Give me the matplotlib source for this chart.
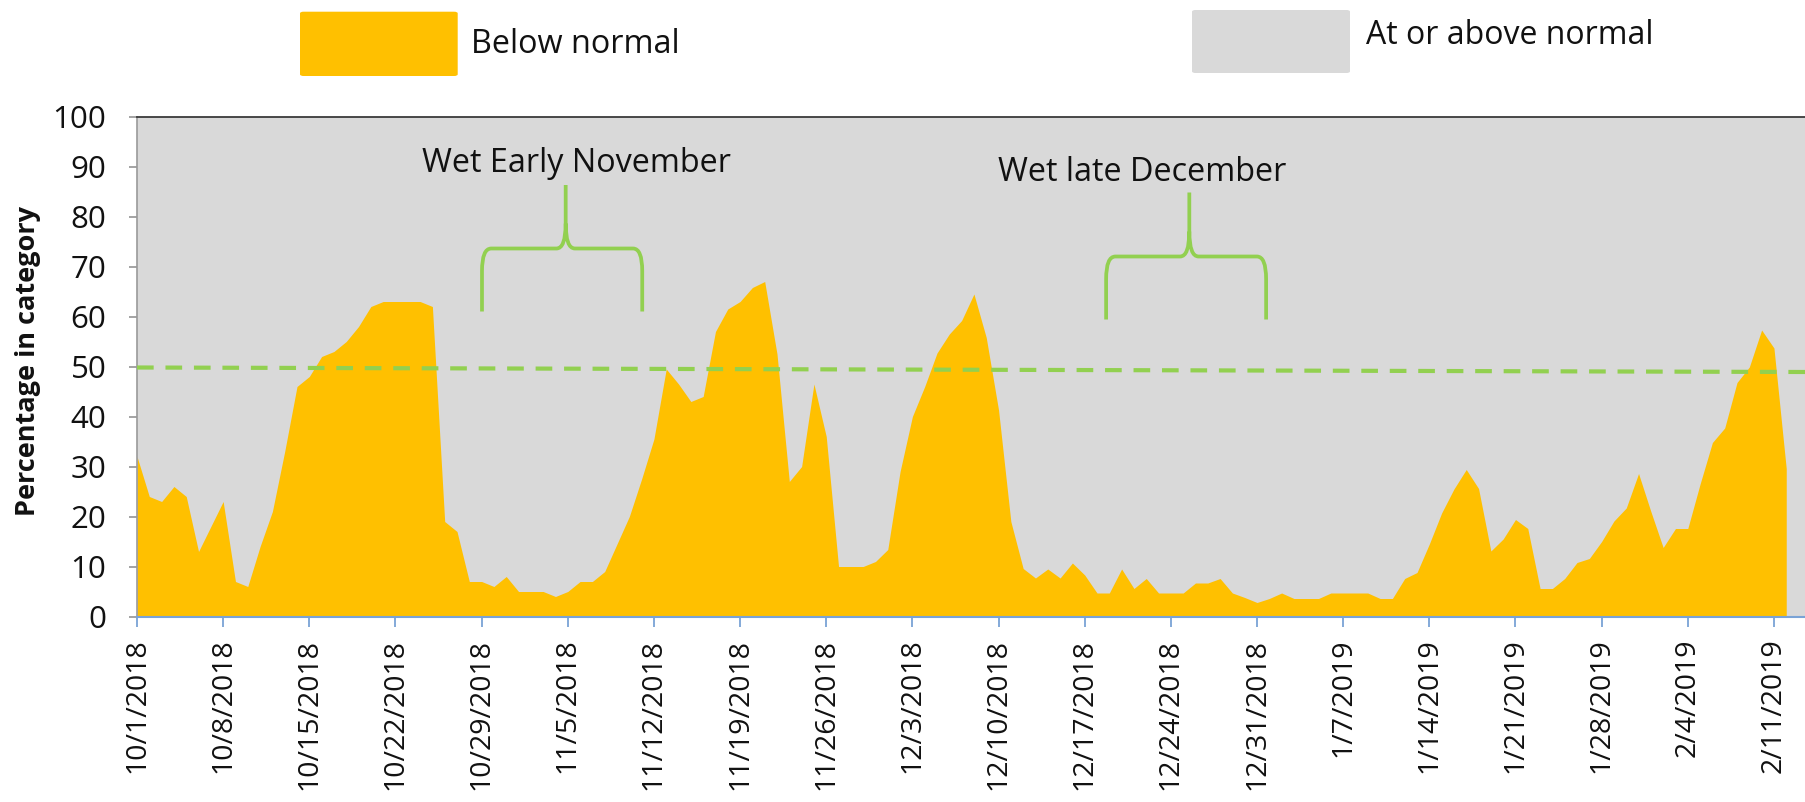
import numpy as np
import pandas as pd
import matplotlib
matplotlib.use("Agg")
import matplotlib.pyplot as plt
from matplotlib.path import Path
from matplotlib.patches import PathPatch, FancyBboxPatch

plt.rcParams['font.family'] = ['Open Sans', 'DejaVu Sans']
plt.rcParams['lines.scale_dashes'] = False

# ---------------- data ----------------
start_date = "2018-10-01"
below_oct = [32, 24, 23, 26, 24, 13, 18, 23, 7, 6, 14, 21, 33, 46, 48, 52, 53, 55, 58, 62,
             63, 63, 63, 63, 62, 19, 17, 7, 7, 6, 8]
below_nov = [5, 5, 5, 4, 5, 7, 7, 9, 14.5, 20, 27.5, 35.5, 49.5, 46.5, 43, 44, 57, 61.5, 63, 65.8,
             67, 52.5, 27, 30, 46.5, 36, 10, 10, 10, 11]
below_dec = [13.4, 29, 40, 46, 52.7, 56.5, 59.2, 64.5, 55.8, 41.3, 19, 9.6, 7.7, 9.5, 7.7, 10.7,
             8.3, 4.7, 4.7, 9.5, 5.6, 7.6, 4.7, 4.7, 4.7, 6.7, 6.7, 7.6, 4.7, 3.8, 2.8]
below_jan = [3.6, 4.7, 3.6, 3.6, 3.6, 4.7, 4.7, 4.7, 4.7, 3.6, 3.6, 7.6, 8.8, 14.5, 20.7, 25.5,
             29.4, 25.6, 13.1, 15.5, 19.4, 17.6, 5.6, 5.6, 7.6, 10.8, 11.6, 15, 19.1, 21.7, 28.6]
below_feb = [21, 13.8, 17.6, 17.6, 26.5, 34.8, 37.7, 46.8, 49.9, 57.3, 53.7, 29.6]

tick_labels = ["10/1/2018", "10/8/2018", "10/15/2018", "10/22/2018", "10/29/2018",
               "11/5/2018", "11/12/2018", "11/19/2018", "11/26/2018", "12/3/2018",
               "12/10/2018", "12/17/2018", "12/24/2018", "12/31/2018", "1/7/2019",
               "1/14/2019", "1/21/2019", "1/28/2019", "2/4/2019", "2/11/2019"]
y_ticks = [0, 10, 20, 30, 40, 50, 60, 70, 80, 90, 100]
normal_line = [49.8, 48.9]   # drawn reference line (slightly sloped in source)

legend_labels = ["Below normal", "At or above normal"]
annotations = ["Wet Early November", "Wet late December"]

below = np.array(below_oct + below_nov + below_dec + below_jan + below_feb, dtype=float)
start = pd.Timestamp(start_date)
dates = pd.date_range(start, periods=len(below), freq="D")
x = np.asarray((dates - start).days, dtype=float)
tick_pos = [(pd.to_datetime(t, format="%m/%d/%Y") - start).days for t in tick_labels]

ORANGE = "#FFC000"
GRAY = "#D9D9D9"
GREEN = "#92D050"
TXT = "#111111"

W, H = 1806, 802
fig = plt.figure(figsize=(W / 100, H / 100), dpi=100)
ax = fig.add_axes([137 / W, 1 - 616.5 / H, (W - 137) / W, 500 / H])
ax.set_facecolor(GRAY)

xmax = (W - 136.7) / 12.31
ax.fill_between(x, 0, below, color=ORANGE, linewidth=0, zorder=2)
ax.set_xlim(0, xmax)
ax.set_ylim(0, 100)

# dashed normal line
ax.plot([0, xmax], normal_line, color=GREEN, lw=3.0, dashes=(12, 8.5), zorder=3,
        solid_capstyle='butt', dash_capstyle='butt')

# braces
def brace(xl, xr, xc, yb, yh, yt, dx=0.75, dy_leg=4.5, dy_cusp=5.0):
    verts = [(xl, yb), (xl, yh - dy_leg), (xl, yh), (xl + dx, yh), (xc - dx, yh),
             (xc, yh), (xc, yh + dy_cusp), (xc, yt),
             (xc, yh + dy_cusp), (xc, yh), (xc + dx, yh), (xr - dx, yh),
             (xr, yh), (xr, yh - dy_leg), (xr, yb)]
    codes = [Path.MOVETO, Path.LINETO, Path.CURVE3, Path.CURVE3, Path.LINETO,
             Path.CURVE3, Path.CURVE3, Path.LINETO,
             Path.MOVETO, Path.CURVE3, Path.CURVE3, Path.LINETO,
             Path.CURVE3, Path.CURVE3, Path.LINETO]
    p = PathPatch(Path(verts, codes), facecolor='none', edgecolor=GREEN, lw=2.7,
                  zorder=4, capstyle='butt', joinstyle='round')
    ax.add_patch(p)

brace(28.03, 41.05, 34.83, 61.0, 73.6, 86.3)
brace(78.74, 91.74, 85.5, 59.4, 72.0, 84.8)

ax.text(35.73, 88.8, annotations[0], ha='center', va='baseline', fontsize=23.3,
        color=TXT, zorder=5)
ax.text(81.7, 87.1, annotations[1], ha='center', va='baseline', fontsize=23.3,
        color=TXT, zorder=5)

# axes styling
ax.spines['right'].set_visible(False)
ax.spines['top'].set_color('#3a3a3a')
ax.spines['top'].set_linewidth(1.3)
ax.spines['left'].set_color('#9a9a9a')
ax.spines['left'].set_linewidth(1.2)
ax.spines['bottom'].set_color('#7aa3d6')
ax.spines['bottom'].set_linewidth(1.5)
ax.spines['bottom'].set_zorder(6)

ax.set_yticks(y_ticks)
ax.set_yticklabels([str(v) for v in y_ticks])
ax.tick_params(axis='y', direction='out', length=6, width=1.1, color='#8a8a8a',
               pad=16, labelsize=22.5, labelcolor=TXT)
ax.set_xticks(tick_pos)
ax.set_xticklabels(tick_labels, rotation=90, ha='center', va='top')
ax.tick_params(axis='x', direction='out', length=7, width=1.3, color='#7aa3d6',
               pad=9, labelsize=20.5, labelcolor=TXT)

ax.text((28 - 136.7) / (W - 136.7), (616.5 - 361) / 500, "Percentage in category",
        transform=ax.transAxes, rotation=90, ha='center', va='center',
        fontsize=19.5, fontweight='bold', color=TXT)

# legend (manual, as in source)
fig.patches.append(FancyBboxPatch((300 / W, 1 - 76 / H), 157.7 / W, 64.3 / H,
                                  boxstyle="round,pad=0,rounding_size=0.002",
                                  transform=fig.transFigure, facecolor=ORANGE,
                                  edgecolor='none'))
fig.patches.append(FancyBboxPatch((1192 / W, 1 - 73 / H), 158 / W, 63 / H,
                                  boxstyle="round,pad=0,rounding_size=0.002",
                                  transform=fig.transFigure, facecolor=GRAY,
                                  edgecolor='none'))
fig.text(470.7 / W, 1 - 52.7 / H, legend_labels[0], ha='left', va='baseline',
         fontsize=23.3, color=TXT)
fig.text(1366 / W, 1 - 44.3 / H, legend_labels[1], ha='left', va='baseline',
         fontsize=23, color=TXT)

fig.savefig("out.png", dpi=100)
